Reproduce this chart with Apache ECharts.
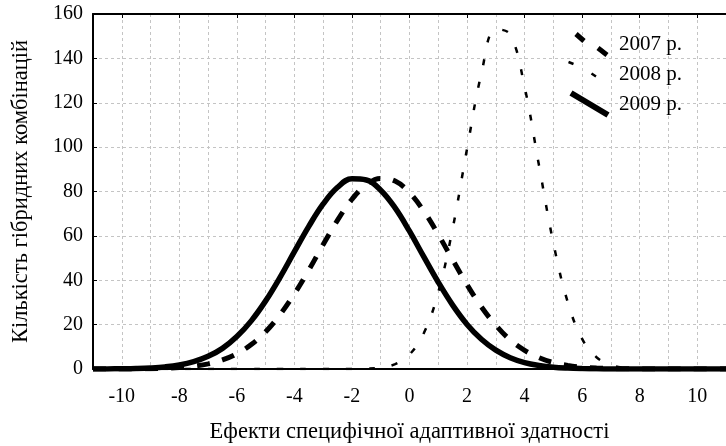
<!DOCTYPE html>
<html>
<head>
<meta charset="utf-8">
<script src="https://cdn.jsdelivr.net/npm/echarts@6/dist/echarts.min.js"></script>
<style>
  html, body { margin: 0; padding: 0; background: #fff; }
  #main { width: 726px; height: 446px; }
</style>
</head>
<body>
<div id="main"></div>
<script>
'use strict';

// значення по осі X (крок 0.5)
var xValues = [-11, -10.5, -10, -9.5, -9, -8.5, -8, -7.5, -7, -6.5, -6, -5.5, -5, -4.5, -4, -3.5, -3, -2.5, -2, -1.5, -1, -0.5,
  0, 0.5, 1, 1.5, 2, 2.5, 3, 3.5, 4, 4.5, 5, 5.5, 6, 6.5, 7, 7.5, 8, 8.5, 9, 9.5, 10, 10.5, 11];

var y2007 = [0, 0.01, 0.03, 0.07, 0.15, 0.32, 0.65, 1.3, 2.3, 4.1, 6.9, 11.0, 16.8, 24.5, 33.9, 44.6, 56.1, 67.1, 76.5, 83.1, 85.9, 84.7,
  79.5, 71.1, 60.6, 49.2, 38.0, 28.0, 19.7, 13.1, 8.4, 5.1, 2.9, 1.6, 0.85, 0.42, 0.2, 0.09, 0.04, 0.02, 0.01, 0, 0, 0, 0];

var y2008 = [0, 0, 0, 0, 0, 0, 0, 0, 0, 0, 0, 0, 0, 0, 0, 0, 0, 0, 0.03, 0.16, 0.65, 2.2,
  6.5, 16.2, 34.6, 63.3, 99.2, 133.2, 153.1, 150.7, 127.1, 91.8, 56.8, 30.1, 13.6, 5.3, 1.8, 0.5, 0.12, 0.03, 0, 0, 0, 0, 0];

var y2009 = [0.02, 0.04, 0.1, 0.22, 0.47, 0.94, 1.8, 3.3, 5.7, 9.3, 14.6, 21.7, 30.7, 41.3, 52.9, 64.3, 74.4, 81.9, 85.7, 85.2, 80.6, 72.6,
  62.1, 50.5, 39.1, 28.8, 20.1, 13.4, 8.5, 5.1, 2.9, 1.6, 0.8, 0.4, 0.19, 0.08, 0.03, 0.01, 0, 0, 0, 0, 0, 0, 0];

var seriesNames = ['2007 р.', '2008 р.', '2009 р.'];
var xTickLabels = [-10, -8, -6, -4, -2, 0, 2, 4, 6, 8, 10];

var FONT = 'Liberation Serif';

function pairs(ys) {
  return xValues.map(function (x, i) { return [x, ys[i]]; });
}

// похилий відрізок для значка легенди
function bar(x1, y1, x2, y2, t) {
  var dx = x2 - x1, dy = y2 - y1;
  var len = Math.sqrt(dx * dx + dy * dy);
  var px = -dy / len * t / 2, py = dx / len * t / 2;
  function p(v) { return Math.round(v * 100) / 100; }
  return 'M' + p(x1 + px) + ' ' + p(y1 + py) +
    'L' + p(x2 + px) + ' ' + p(y2 + py) +
    'L' + p(x2 - px) + ' ' + p(y2 - py) +
    'L' + p(x1 - px) + ' ' + p(y1 - py) + 'Z';
}
function icon(parts) {
  return 'path://M0 0L0.01 0L0 0.01Z' + parts.join('') + 'M48 28L47.99 28L48 27.99Z';
}

var chart = echarts.init(document.getElementById('main'), null, { renderer: 'canvas' });

var option = {
  backgroundColor: '#ffffff',
  animation: false,
  textStyle: { fontFamily: FONT, color: '#000' },
  grid: { left: 93, right: 0, top: 14, bottom: 77, outerBoundsMode: 'none', containLabel: false },
  legend: {
    orient: 'vertical',
    left: 566,
    top: 30,
    padding: 0,
    itemWidth: 48,
    itemHeight: 28,
    itemGap: 2,
    itemStyle: { borderWidth: 0 },
    textStyle: { fontFamily: FONT, fontSize: 21, color: '#000' },
    data: [
      { name: seriesNames[0], icon: icon([bar(10, 4, 18, 11, 5), bar(32, 18, 41, 25, 5)]) },
      { name: seriesNames[1], icon: icon([bar(2.5, 2, 7.5, 4, 2.5), bar(25.5, 13.5, 30, 16.5, 2.5)]) },
      { name: seriesNames[2], icon: icon([bar(5, 3, 42, 25, 6)]) }
    ]
  },
  xAxis: [{
    type: 'value',
    min: -11,
    max: 11,
    interval: 1,
    name: 'Ефекти специфічної адаптивної здатності',
    nameLocation: 'middle',
    nameGap: 52,
    nameTextStyle: { fontFamily: FONT, fontSize: 22.5, color: '#000' },
    axisLine: { show: true, onZero: false, lineStyle: { color: '#000', width: 2 } },
    axisTick: { show: false },
    axisLabel: {
      fontFamily: FONT, fontSize: 20, color: '#000', margin: 18,
      formatter: function (v) { return xTickLabels.indexOf(v) >= 0 ? String(v) : ''; }
    },
    splitLine: { show: true, lineStyle: { color: '#c4c4c4', type: [3, 3], width: 1 } }
  }, {
    type: 'value',
    position: 'top',
    min: -11,
    max: 11,
    axisLine: { show: true, onZero: false, lineStyle: { color: '#000', width: 2 } },
    axisTick: { show: true, inside: true, length: 4, customValues: xTickLabels, lineStyle: { color: '#000' } },
    axisLabel: { show: false },
    splitLine: { show: false }
  }],
  yAxis: {
    type: 'value',
    min: 0,
    max: 160,
    interval: 20,
    name: 'Кількість гібридних комбінацій',
    nameLocation: 'middle',
    nameGap: 60,
    nameTextStyle: { fontFamily: FONT, fontSize: 22.5, color: '#000' },
    axisLine: { show: true, onZero: false, lineStyle: { color: '#000', width: 2 } },
    axisTick: { show: true, inside: true, length: 4, lineStyle: { color: '#000' } },
    axisLabel: { fontFamily: FONT, fontSize: 20, color: '#000', margin: 10 },
    splitLine: { show: true, lineStyle: { color: '#c4c4c4', type: [3, 3], width: 1 } }
  },
  series: [{
    name: seriesNames[0],
    type: 'line',
    data: pairs(y2007),
    smooth: 0.4,
    symbol: 'none',
    color: '#000',
    lineStyle: { color: '#000', width: 5, type: [13, 13], cap: 'butt' }
  }, {
    name: seriesNames[1],
    type: 'line',
    data: pairs(y2008),
    smooth: 0.4,
    symbol: 'none',
    color: '#000',
    lineStyle: { color: '#000', width: 2.5, type: [6, 17], cap: 'butt' }
  }, {
    name: seriesNames[2],
    type: 'line',
    data: pairs(y2009),
    smooth: 0.4,
    symbol: 'none',
    color: '#000',
    lineStyle: { color: '#000', width: 5.5, type: 'solid' }
  }]
};

chart.setOption(option);
</script>
</body>
</html>
